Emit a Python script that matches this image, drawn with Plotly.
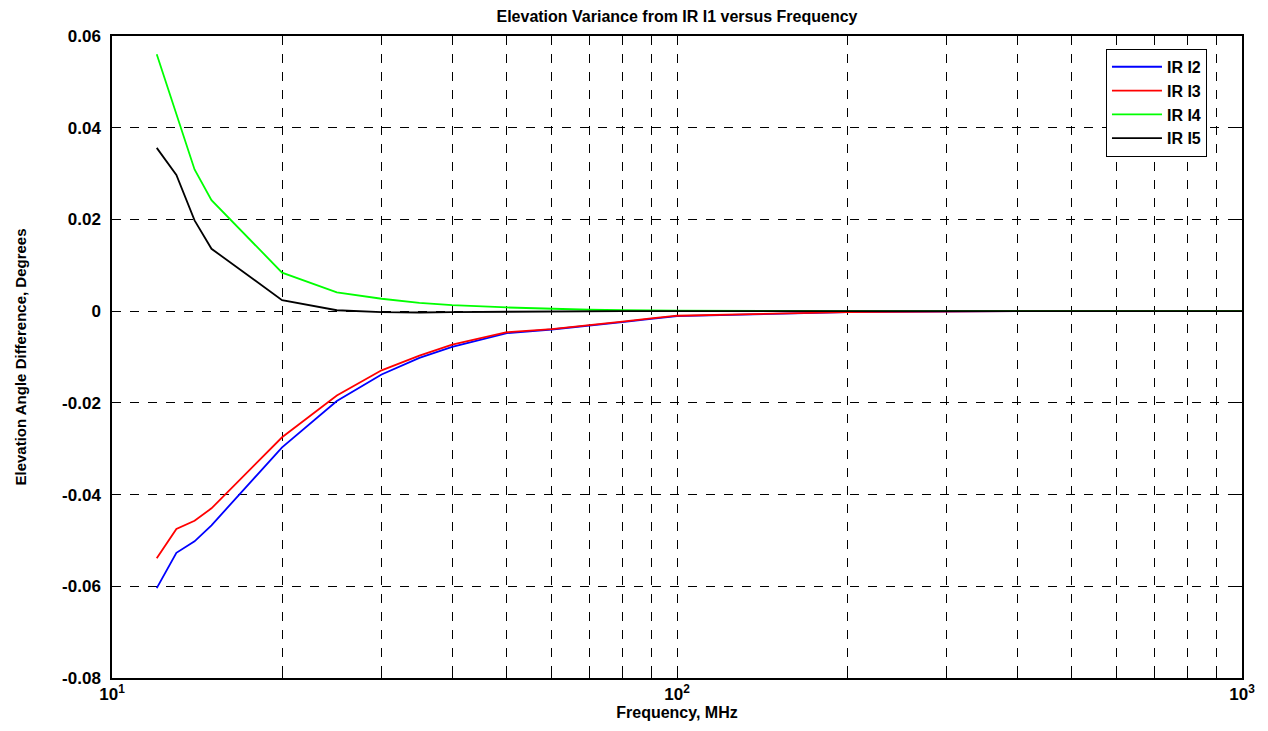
import plotly.graph_objects as go

freq = [12, 13, 14, 15, 20, 25, 30, 35, 40, 50, 60, 70, 80, 90, 100,
        200, 300, 400, 500, 600, 700, 800, 900, 1000]

ir_i2 = [-0.0604, -0.0527, -0.0502, -0.0467, -0.0297, -0.0196, -0.0138, -0.0102,
         -0.0078, -0.0048, -0.0040, -0.0032, -0.0024, -0.0017, -0.0011,
         -0.0002, 0.0, 0.0, 0.0, 0.0, 0.0, 0.0, 0.0, 0.0]
ir_i3 = [-0.0539, -0.0475, -0.0457, -0.0430, -0.0275, -0.0184, -0.0129, -0.0097,
         -0.0073, -0.0046, -0.0039, -0.0031, -0.0023, -0.0016, -0.0010,
         -0.0002, 0.0, 0.0, 0.0, 0.0, 0.0, 0.0, 0.0, 0.0]
ir_i4 = [0.0560, 0.0429, 0.0309, 0.0242, 0.0084, 0.0041, 0.0027, 0.0018,
         0.0013, 0.0008, 0.0005, 0.0003, 0.0002, 0.0002, 0.0001,
         0.0, 0.0, 0.0, 0.0, 0.0, 0.0, 0.0, 0.0, 0.0]
ir_i5 = [0.0356, 0.0297, 0.0198, 0.0136, 0.0024, 0.0002, -0.0002, -0.0003,
         -0.0002, -0.0001, -0.0001, 0.0, 0.0, 0.0, 0.0,
         0.0, 0.0, 0.0, 0.0, 0.0, 0.0, 0.0, 0.0, 0.0]

series = [("IR I2", ir_i2, "#0000ff"), ("IR I3", ir_i3, "#ff0000"),
          ("IR I4", ir_i4, "#00ff00"), ("IR I5", ir_i5, "#000000")]

x_ticks = [10, 100, 1000]
x_labels = ["10<sup>1</sup>", "10<sup>2</sup>", "10<sup>3</sup>"]
x_minor = [m * 10 ** e for e in (1, 2) for m in range(2, 10)]
y_ticks = [-0.08, -0.06, -0.04, -0.02, 0, 0.02, 0.04, 0.06]
y_labels = ["-0.08", "-0.06", "-0.04", "-0.02", "0", "0.02", "0.04", "0.06"]

fig = go.Figure()
for name, vals, col in series:
    fig.add_trace(go.Scatter(x=freq, y=vals, name=name, mode="lines",
                             line=dict(color=col, width=1.8)))

font = "Liberation Sans, Arial, sans-serif"
# page body has an 8px margin, so the figure is a bit smaller than the window
fig.update_layout(
    width=1260, height=723,
    margin=dict(l=104, r=26, t=28, b=53),
    paper_bgcolor="white", plot_bgcolor="white",
    font=dict(family=font, color="black"),
    title=dict(text="Elevation Variance from IR I1 versus Frequency",
               x=0.5, xref="paper", xanchor="center", y=0.988, yanchor="middle",
               font=dict(size=16, weight="bold")),
    legend=dict(x=0.969, xanchor="right", y=0.98, yanchor="top",
                bordercolor="black", borderwidth=1, bgcolor="white",
                font=dict(size=16, family=font, weight="bold"), tracegroupgap=0,
                itemwidth=50),
    showlegend=True,
)
fig.update_xaxes(
    type="log", range=[1, 3], tickmode="array", tickvals=x_ticks, ticktext=x_labels,
    showgrid=True, gridcolor="black", griddash="dash", gridwidth=1,
    ticks="inside", ticklen=6, tickcolor="black", mirror="allticks",
    minor=dict(tickmode="array", tickvals=x_minor, ticks="inside", ticklen=6,
               tickcolor="black", showgrid=True, gridcolor="black",
               griddash="dash", gridwidth=1),
    showline=True, linecolor="black", linewidth=1.5,
    tickfont=dict(size=17, family=font, weight="bold"), zeroline=False,
    title=dict(text="Frequency, MHz", font=dict(size=16, weight="bold"), standoff=4),
)
fig.update_yaxes(
    range=[-0.08, 0.06], tickmode="array", tickvals=y_ticks, ticktext=y_labels,
    showgrid=True, gridcolor="black", griddash="dash", gridwidth=1,
    ticks="inside", ticklen=6, tickcolor="black", mirror="allticks",
    showline=True, linecolor="black", linewidth=1.5, ticklabelstandoff=6,
    tickfont=dict(size=17, family=font, weight="bold"), zeroline=False,
    title=dict(text="Elevation Angle Difference, Degrees", font=dict(size=15, weight="bold"), standoff=32),
)

fig.write_html("out.html")
